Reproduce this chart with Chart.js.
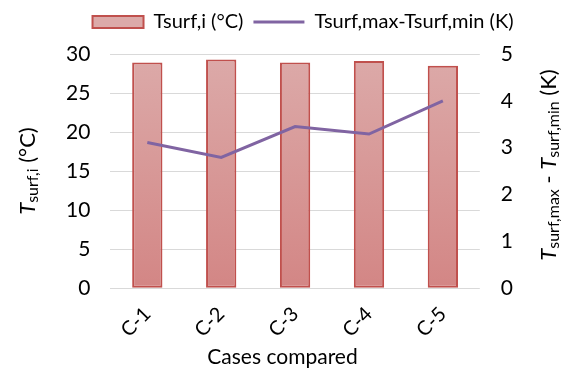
<!DOCTYPE html>
<html>
<head>
<meta charset="utf-8">
<script src="https://cdn.jsdelivr.net/npm/chart.js@4"></script>
<style>
  html, body { margin: 0; padding: 0; background: #fff; }
  #wrap { width: 565px; height: 372px; }
</style>
</head>
<body>
<div id="wrap"><canvas id="myChart"></canvas></div>
<script>
// data
var cases = ["C-1", "C-2", "C-3", "C-4", "C-5"];
var tsurfI = [28.9, 29.3, 28.9, 29.1, 28.5];
var tsurfRange = [3.11, 2.79, 3.45, 3.29, 4.0];
var leftTicks = [0, 5, 10, 15, 20, 25, 30];
var rightTicks = [0, 1, 2, 3, 4, 5];

var FONT = "Lato";

function barFill(context) {
    var chart = context.chart;
    var area = chart.chartArea;
    if (!area) return "#d89a99";
    var g = chart.ctx.createLinearGradient(0, area.top, 0, area.bottom);
    g.addColorStop(0, "#dcaaa9");
    g.addColorStop(1, "#d38685");
    return g;
}

// axis titles with italic T and subscripts
function drawRich(ctx, parts, cx, cy, rot) {
    var total = 0;
    parts.forEach(function (p) {
        ctx.font = p.font;
        p.w = ctx.measureText(p.t).width;
        total += p.w;
    });
    var x = -total / 2;
    ctx.save();
    ctx.translate(cx, cy);
    ctx.rotate(rot);
    ctx.fillStyle = "#000";
    ctx.textBaseline = "middle";
    ctx.textAlign = "left";
    parts.forEach(function (p) {
        ctx.font = p.font;
        ctx.fillText(p.t, x, p.dy || 0);
        x += p.w;
    });
    ctx.restore();
}

var axisTitles = {
    id: "axisTitles",
    afterDraw: function (chart) {
        var ctx = chart.ctx;
        var a = chart.chartArea;
        var big = "22px " + FONT;
        var it = "italic 22px " + FONT;
        var sub = "16px " + FONT;
        var cy = (a.top + a.bottom) / 2;
        drawRich(ctx, [
            {t: "T", font: it},
            {t: "surf,i", font: sub, dy: 5},
            {t: " (°C)", font: big}
        ], 28, cy, -Math.PI / 2);
        drawRich(ctx, [
            {t: "T", font: it},
            {t: "surf,max", font: sub, dy: 5},
            {t: " - ", font: big},
            {t: "T", font: it},
            {t: "surf,min", font: sub, dy: 5},
            {t: " (K)", font: big}
        ], 549, cy - 6, -Math.PI / 2);
        drawRich(ctx, [
            {t: "Cases compared", font: "21px " + FONT}
        ], chart.width / 2, chart.height - 15, 0);
    }
};

// legend: taller box and nudged right like the original
var legendTweak = {
    id: "legendTweak",
    beforeInit: function (chart) {
        var fit = chart.legend.fit;
        chart.legend.fit = function () {
            fit.bind(chart.legend)();
            this.height = 52;
        };
    },
    afterLayout: function (chart) {
        chart.legend.left += 13;
        chart.legend.right += 13;
    }
};

var ctx = document.getElementById("myChart").getContext("2d");
var myChart = new Chart(ctx, {
    type: "bar",
    data: {
        labels: cases,
        datasets: [{
            type: "line",
            label: "Tsurf,max-Tsurf,min (K)",
            data: tsurfRange,
            yAxisID: "y2",
            borderColor: "#8064a2",
            backgroundColor: "#8064a2",
            borderWidth: 3,
            pointRadius: 0,
            pointStyle: "line",
            tension: 0,
            fill: false,
            order: 0
        }, {
            type: "bar",
            label: "Tsurf,i (°C)",
            data: tsurfI,
            yAxisID: "y",
            backgroundColor: barFill,
            borderColor: "#c0504d",
            borderWidth: 2,
            borderSkipped: false,
            pointStyle: "rect",
            barPercentage: 0.41,
            categoryPercentage: 1,
            order: 1
        }]
    },
    options: {
        responsive: true,
        maintainAspectRatio: false,
        animation: false,
        layout: {padding: {left: 46, right: 31, top: 2, bottom: 24}},
        plugins: {
            tooltip: {enabled: false},
            legend: {
                display: true,
                position: "top",
                reverse: true,
                labels: {
                    usePointStyle: true,
                    pointStyleWidth: 51,
                    boxHeight: 12,
                    padding: 10,
                    color: "#000",
                    font: {family: FONT, size: 20}
                }
            }
        },
        scales: {
            x: {
                grid: {display: false},
                border: {display: false},
                ticks: {
                    color: "#000",
                    font: {family: FONT, size: 20},
                    minRotation: 45,
                    maxRotation: 45,
                    padding: 6
                }
            },
            y: {
                position: "left",
                min: 0,
                max: 30,
                afterBuildTicks: function (axis) {
                    axis.ticks = leftTicks.map(function (v) { return {value: v}; });
                },
                grid: {color: "#d9d9d9", lineWidth: 1, drawTicks: false},
                border: {display: false},
                ticks: {color: "#000", font: {family: FONT, size: 21}, padding: 20}
            },
            y2: {
                position: "right",
                min: 0,
                max: 5,
                afterBuildTicks: function (axis) {
                    axis.ticks = rightTicks.map(function (v) { return {value: v}; });
                },
                grid: {display: false, drawTicks: false},
                border: {display: false},
                ticks: {color: "#000", font: {family: FONT, size: 21}, padding: 21}
            }
        }
    },
    plugins: [axisTitles, legendTweak]
});
</script>
</body>
</html>
